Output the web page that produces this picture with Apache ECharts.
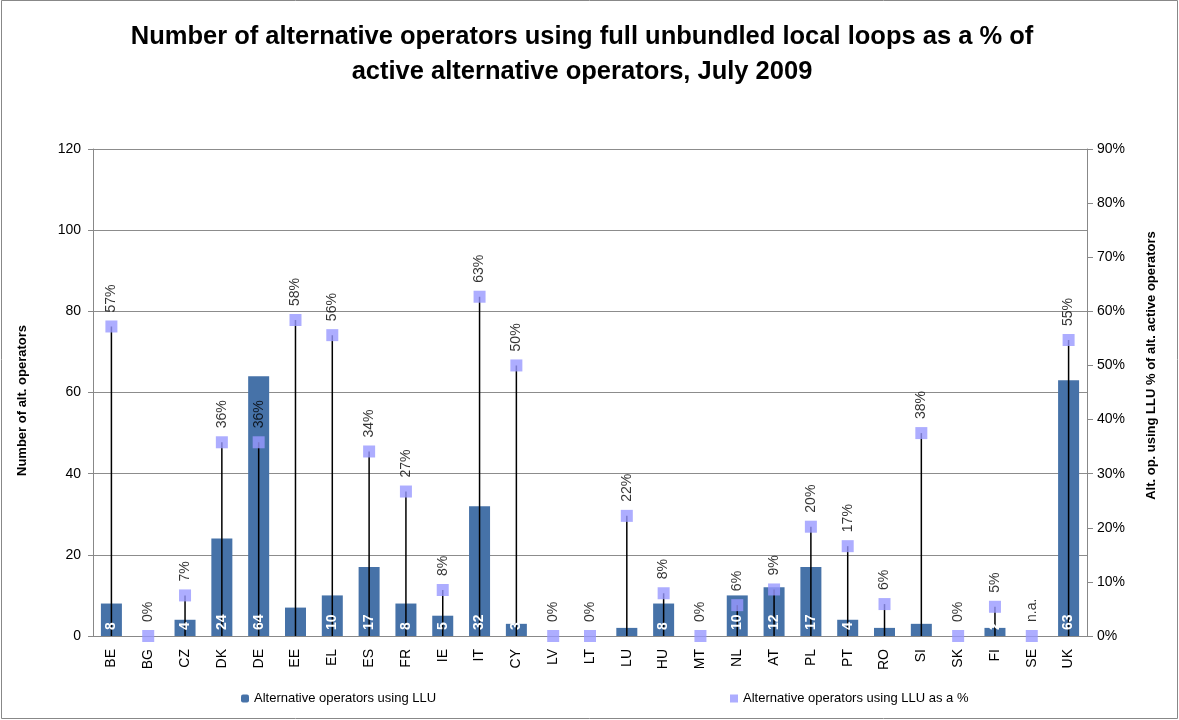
<!DOCTYPE html>
<html><head><meta charset="utf-8">
<title>LLU operators, July 2009</title>
<script src="https://cdn.jsdelivr.net/npm/echarts@6/dist/echarts.min.js"></script>
<style type="text/css">
  html, body { margin: 0; padding: 0; background: #fff; }
  #chart { width: 1179px; height: 720px; }
</style>
</head>
<body>
<div id="chart"></div>
<script type="text/javascript">
// countries
var countries = ['BE','BG','CZ','DK','DE','EE','EL','ES','FR','IE','IT','CY','LV','LT','LU','HU','MT','NL','AT','PL','PT','RO','SI','SK','FI','SE','UK'];
// number of alt. operators using LLU
var llu = [8,0,4,24,64,7,10,17,8,5,32,3,0,0,2,8,0,10,12,17,4,2,3,0,2,0,63];
// which bar labels are visible in the original
var lluLabelShown = [1,0,1,1,1,0,1,1,1,1,1,1,0,0,0,1,0,1,1,1,1,0,0,0,1,0,1];
// share of alt. active operators
var pct = [0.572,0,0.075,0.358,0.358,0.584,0.556,0.341,0.267,0.085,0.627,0.50,0,0,0.222,0.079,0,0.057,0.086,0.202,0.166,0.059,0.375,0,0.054,0,0.547];
var pctLabels = ['57%','0%','7%','36%','36%','58%','56%','34%','27%','8%','63%','50%','0%','0%','22%','8%','0%','6%','9%','20%','17%','6%','38%','0%','5%','n.a.','55%'];

var FONT = 'Liberation Sans, Arial, sans-serif';
var chart = echarts.init(document.getElementById('chart'));

var option = {
  animation: false,
  backgroundColor: '#fff',
  title: {
    text: 'Number of alternative operators using full unbundled local loops as a % of\nactive alternative operators, July 2009',
    left: 577, top: 14, textAlign: 'center',
    textStyle: { fontFamily: FONT, fontWeight: 'bold', fontSize: 25.5, lineHeight: 35, color: '#000' }
  },
  legend: [
    { data: ['Alternative operators using LLU'], left: 236, top: 687, itemWidth: 8, itemHeight: 8, itemGap: 4,
      textStyle: { fontFamily: FONT, fontSize: 13, color: '#000' } },
    { data: ['Alternative operators using LLU as a %'], left: 725, top: 687, itemWidth: 8, itemHeight: 8,
      textStyle: { fontFamily: FONT, fontSize: 13, color: '#000' } }
  ],
  grid: { left: 93, right: 92, top: 149, bottom: 84 },
  xAxis: {
    type: 'category', data: countries,
    axisLine: { lineStyle: { color: '#888' } },
    axisTick: { show: false },
    axisLabel: { rotate: 90, margin: 13, fontFamily: FONT, fontSize: 14, color: '#000' }
  },
  yAxis: [
    { type: 'value', min: 0, max: 120, interval: 20,
      name: 'Number of alt. operators', nameLocation: 'middle', nameGap: 64, nameRotate: 90,
      nameTextStyle: { fontFamily: FONT, fontWeight: 'bold', fontSize: 13, color: '#000', padding: [0, 16, 0, 0] },
      axisLine: { show: true, lineStyle: { color: '#888' } },
      axisTick: { show: true, length: 5, lineStyle: { color: '#888' } },
      axisLabel: { fontFamily: FONT, fontSize: 14, color: '#000', margin: 12 },
      splitLine: { lineStyle: { color: '#8c8c8c' } } },
    { type: 'value', min: 0, max: 0.9, interval: 0.1,
      name: 'Alt. op. using LLU % of alt. active operators', nameLocation: 'middle', nameGap: 58, nameRotate: 90,
      nameTextStyle: { fontFamily: FONT, fontWeight: 'bold', fontSize: 13, color: '#000', padding: [0, 0, 0, 54] },
      axisLine: { show: true, lineStyle: { color: '#888' } },
      axisTick: { show: true, length: 6, lineStyle: { color: '#888' } },
      axisLabel: { fontFamily: FONT, fontSize: 14, color: '#000', margin: 10,
        formatter: function (v) { return Math.round(v * 100) + '%'; } },
      splitLine: { show: false } }
  ],
  series: [
    { name: 'Alternative operators using LLU', type: 'bar', yAxisIndex: 0, barWidth: 21,
      itemStyle: { color: '#4672A8' }, z: 2,
      data: llu },
    // transparent copy of the bars, only to put the value labels above the drop lines
    { name: 'lluLabels', type: 'bar', yAxisIndex: 0, barWidth: 21, barGap: '-100%', z: 5, silent: true,
      itemStyle: { color: 'rgba(0,0,0,0)' },
      data: llu.map(function (v, i) {
        return { value: v, label: { show: lluLabelShown[i] === 1 } };
      }),
      label: { position: 'insideBottom', rotate: 90, align: 'left', verticalAlign: 'middle', distance: 3,
        offset: [3, 0],
        fontFamily: FONT, fontWeight: 'bold', fontSize: 14, color: '#fff' } },
    { name: 'drop', type: 'custom', yAxisIndex: 1, z: 3, silent: true,
      data: pct.map(function (v, i) { return [i, v]; }),
      renderItem: function (params, api) {
        var top = api.coord([api.value(0), api.value(1)]);
        var bot = api.coord([api.value(0), 0]);
        return { type: 'line', shape: { x1: top[0], y1: top[1], x2: bot[0], y2: bot[1] },
          style: { stroke: '#000', lineWidth: 1.5 } };
      } },
    { name: 'Alternative operators using LLU as a %', type: 'scatter', yAxisIndex: 1, z: 4,
      symbol: 'rect', symbolSize: 12, itemStyle: { color: '#9999FF' },
      data: pct,
      label: { show: true, position: 'top', distance: 8, rotate: 90, align: 'left', verticalAlign: 'middle',
        fontFamily: FONT, fontSize: 14, color: '#000',
        formatter: function (p) { return pctLabels[p.dataIndex]; } } }
  ],
  graphic: [
    { type: 'rect', shape: { x: 1.5, y: 0.5, width: 1176, height: 718 }, silent: true,
      style: { fill: 'none', stroke: '#888', lineWidth: 1 } }
  ]
};
chart.setOption(option);
</script>
</body></html>
